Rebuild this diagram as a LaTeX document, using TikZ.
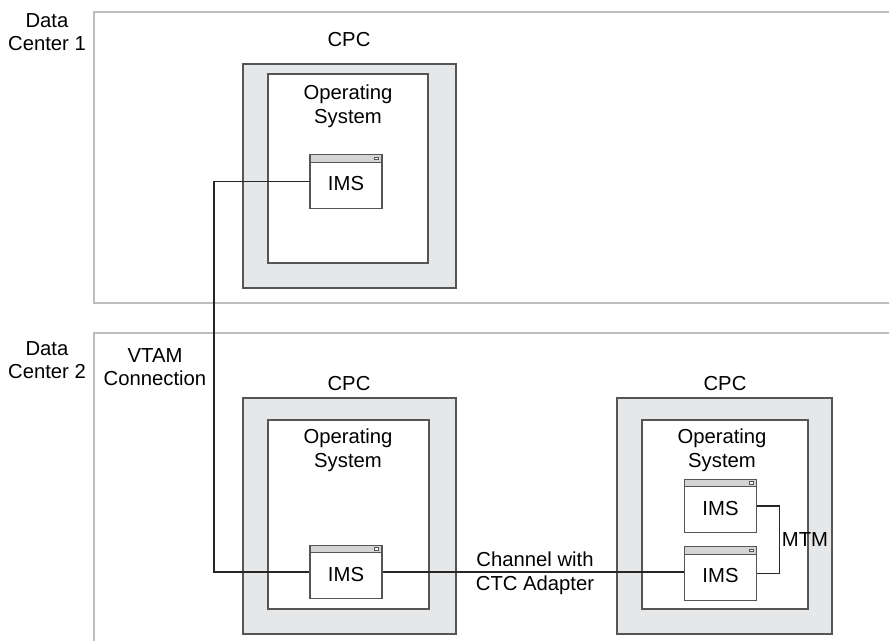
\documentclass[tikz,border=0pt]{standalone}
\usepackage{fontspec}
\setmainfont{Liberation Sans}
\definecolor{dcline}{HTML}{BDBDBD}
\definecolor{cpcfill}{HTML}{E6E7E8}
\definecolor{cpcline}{HTML}{555555}
\definecolor{barfill}{HTML}{D4D4D4}
\tikzset{
  lbl/.style={font=\fontsize{15.2}{17.8}\selectfont, align=center, inner sep=0pt},
  dcbox/.style={draw=dcline, line width=1.5pt},
  cpcbox/.style={draw=cpcline, fill=cpcfill, line width=0.9pt},
  osbox/.style={draw=cpcline, fill=white, line width=0.9pt},
  imsbox/.style={draw=cpcline, fill=white, line width=0.8pt, minimum width=54pt, minimum height=40pt,
    inner sep=0pt, font=\fontsize{15.2}{18}\selectfont, text depth=0pt,
    path picture={
      \fill[barfill] (path picture bounding box.north west) rectangle ([yshift=-5.4pt]path picture bounding box.north east);
      \draw[cpcline, line width=0.6pt] ([yshift=-5.4pt]path picture bounding box.north west) -- ([yshift=-5.4pt]path picture bounding box.north east);
      \draw[cpcline, line width=0.5pt, fill=white] ([xshift=-5.5pt,yshift=-1.6pt]path picture bounding box.north east) rectangle ([xshift=-2.4pt,yshift=-3.6pt]path picture bounding box.north east);
    }},
  conn/.style={draw=black!85, line width=0.8pt},
}
\begin{document}
\begin{tikzpicture}[x=0.75pt, y=-0.75pt]
\useasboundingbox (0,0) rectangle (889,641);
% data centers
\draw[dcbox] (889,12) -- (94,12) -- (94,303) -- (889,303);
\draw[dcbox] (889,333) -- (94,333) -- (94,641);
\node[lbl] (dc1) at (47,32) {Data\\Center 1};
\node[lbl] (dc2) at (47,360) {Data\\Center 2};
% CPC 1
\path[cpcbox] (243,64) rectangle (456,288);
\path[osbox] (268,74) rectangle (428,263);
\node[lbl] (cpc1) at (349,40) {CPC};
\node[lbl] (os1) at (348,106) {Operating\\System};
% CPC 2
\path[cpcbox] (243,398) rectangle (456,634);
\path[osbox] (268,420) rectangle (429,609);
\node[lbl] (cpc2) at (349,384) {CPC};
\node[lbl] (os2) at (348,450) {Operating\\System};
% CPC 3
\path[cpcbox] (617,398) rectangle (832,634);
\path[osbox] (642,420) rectangle (808,609);
\node[lbl] (cpc3) at (725,384) {CPC};
\node[lbl] (os3) at (722,450) {Operating\\System};
% IMS windows
\node[imsbox] (ims1) at (346,181.5) {\raisebox{-3pt}{IMS}};
\node[imsbox] (ims2) at (346,572) {\raisebox{-3pt}{IMS}};
\node[imsbox] (ims3a) at (720.5,506) {\raisebox{-3pt}{IMS}};
\node[imsbox] (ims3b) at (720.5,573.5) {\raisebox{-3pt}{IMS}};
% connectors
\coordinate (vx) at (214,0);
\draw[conn] (ims1.west) -- (ims1.west -| vx) -- (ims2.west -| vx) -- (ims2.west);
\draw[conn] (ims2.east) -- (ims2.east -| ims3b.west);
\draw[conn] (ims3a.east) -- ++(22,0) |- (ims3b.east);
% labels
\node[lbl] (vtam) at (155,367) {VTAM\\Connection};
\node[lbl] (chan) at (535,573) {Channel with\\CTC Adapter};
\node[lbl] (mtm) at (805,540) {MTM};
\end{tikzpicture}
\end{document}
